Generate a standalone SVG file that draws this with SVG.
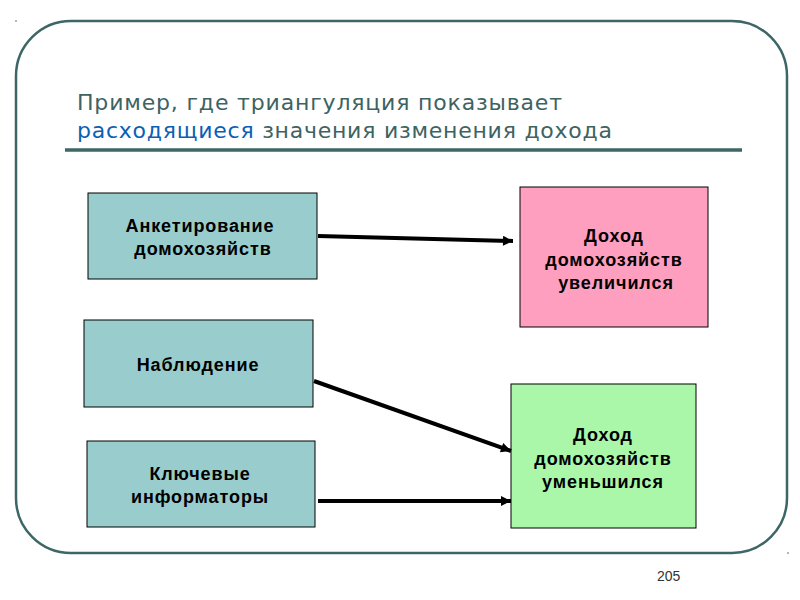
<svg xmlns="http://www.w3.org/2000/svg" width="800" height="600" viewBox="0 0 800 600">
<style>
.frame{fill:none;stroke:#3d6666;stroke-width:2.5}
.title{font-family:"DejaVu Sans","Noto Sans",sans-serif;font-size:22px;fill:#3d6363}
.hl{fill:#0b5fb5}
.box{stroke:#000;stroke-width:1}
.lbl{font-family:"Liberation Sans",Arial,sans-serif;font-size:18px;font-weight:bold;fill:#000;text-anchor:middle;letter-spacing:0.9px}
.conn{stroke:#000;stroke-width:4;fill:none;marker-end:url(#ah)}
.pg{font-family:"Liberation Sans",Arial,sans-serif;font-size:14px;fill:#333}
</style>
<defs>
<marker id="ah" viewBox="0 0 10 10" refX="10" refY="5" markerUnits="userSpaceOnUse" markerWidth="12" markerHeight="10" orient="auto">
<path d="M0,0 L10,5 L0,10 Z" fill="#000"/>
</marker>
</defs>
<rect width="800" height="600" fill="#fff"/>
<rect class="frame" x="16" y="21" width="771" height="532" rx="55" ry="55"/>
<circle cx="16" cy="21" r="0.8" fill="#3d6666"/>
<circle cx="788" cy="553" r="0.8" fill="#3d6666"/>
<text class="title" x="77" y="110" textLength="485" lengthAdjust="spacing">Пример, где триангуляция показывает</text>
<text class="title" x="77" y="138" textLength="535" lengthAdjust="spacing"><tspan class="hl">расходящиеся</tspan> значения изменения дохода</text>
<line x1="65" y1="150" x2="742" y2="150" stroke="#3d6666" stroke-width="3.5"/>
<g id="n1">
<rect class="box" x="88" y="193" width="229" height="86" fill="#99cccc"/>
<text class="lbl" x="200" y="232">Анкетирование</text>
<text class="lbl" x="203" y="255">домохозяйств</text>
</g>
<g id="n2">
<rect class="box" x="84" y="320" width="229" height="87" fill="#99cccc"/>
<text class="lbl" x="198" y="371">Наблюдение</text>
</g>
<g id="n3">
<rect class="box" x="87" y="441" width="228" height="86" fill="#99cccc"/>
<text class="lbl" x="200" y="480">Ключевые</text>
<text class="lbl" x="200" y="503">информаторы</text>
</g>
<g id="n4">
<rect class="box" x="520" y="187" width="188" height="140" fill="#ff9fbf"/>
<text class="lbl" x="614" y="242">Доход</text>
<text class="lbl" x="614" y="266">домохозяйств</text>
<text class="lbl" x="616" y="289">увеличился</text>
</g>
<g id="n5">
<rect class="box" x="511" y="384" width="185" height="144" fill="#aaf7aa"/>
<text class="lbl" x="603" y="441">Доход</text>
<text class="lbl" x="603" y="465">домохозяйств</text>
<text class="lbl" x="603" y="488">уменьшился</text>
</g>
<g id="connectors">
<path class="conn" d="M318,236 L513,241"/>
<path class="conn" d="M314,381 L511,451"/>
<path class="conn" d="M318,501 L511,501"/>
</g>
<text class="pg" x="657" y="581">205</text>
</svg>
